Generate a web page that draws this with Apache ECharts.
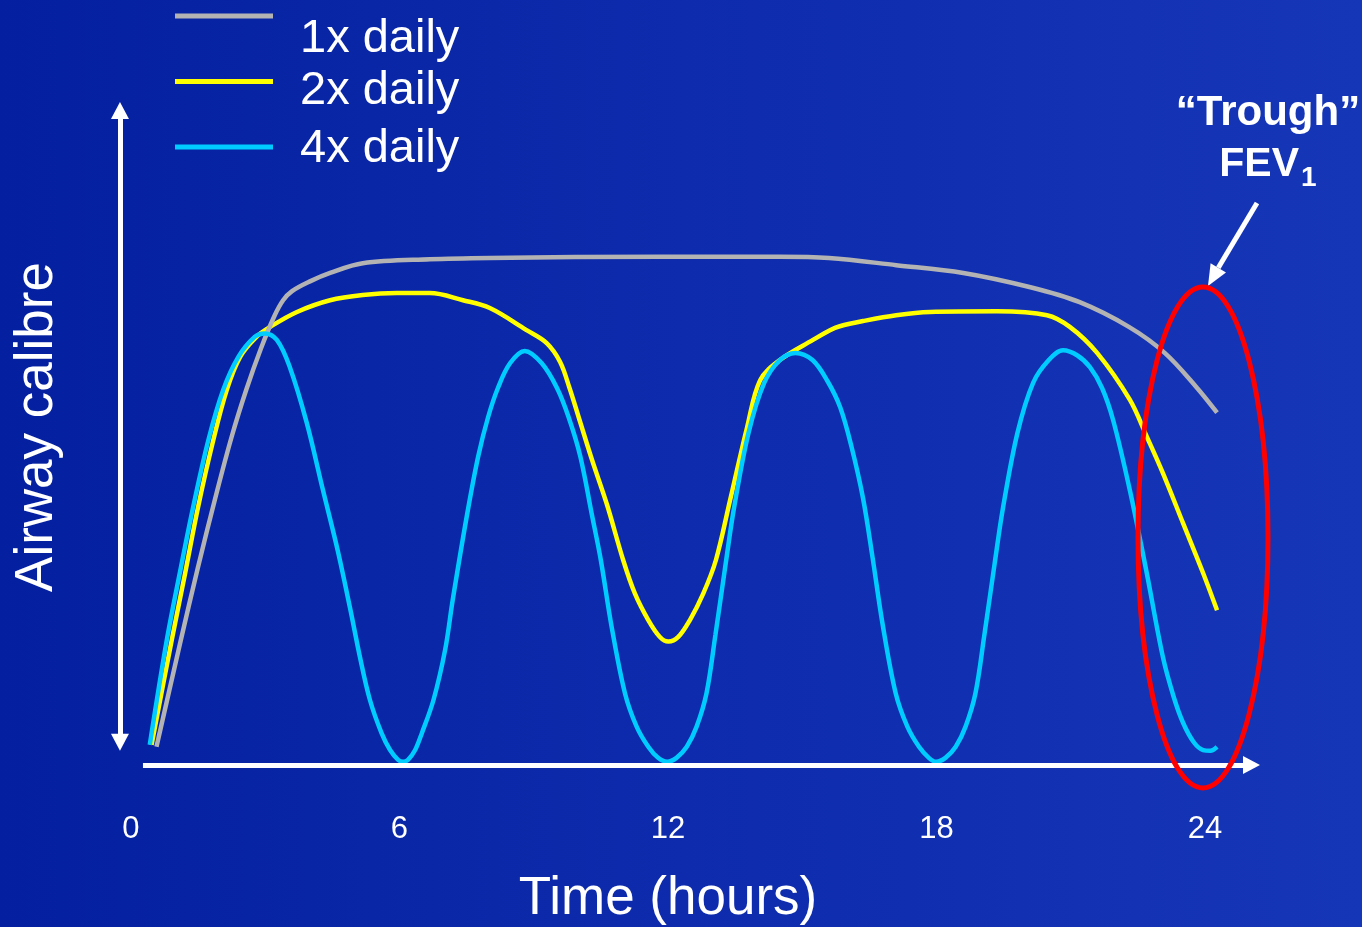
<!DOCTYPE html>
<html><head><meta charset="utf-8">
<script src="https://cdn.jsdelivr.net/npm/echarts@6/dist/echarts.min.js"></script>
<style>html,body{margin:0;padding:0;background:#0a28a8}#c{width:1362px;height:927px}</style>
</head><body><div id="c"></div><script>
// x: hours, y: airway calibre (arbitrary units, 0 = baseline)
const hourTicks = [0, 6, 12, 18, 24];
const seriesNames = ['1x daily', '2x daily', '4x daily'];

const once_h = [0.57, 1.09, 1.50, 1.90, 2.25, 2.58, 2.90, 3.20, 3.40, 3.60, 4.0, 4.45, 5.18, 6.68, 8.02, 11.82, 14.5, 15.6, 17.1, 18.6, 20.1, 21.2, 22.3, 23.1, 23.8, 24.27];
const once_v = [2.8, 18.5, 30.5, 41.5, 50.5, 57.8, 64, 69, 71.5, 72.9, 74.4, 75.7, 77.2, 77.8, 78, 78.2, 78.2, 78, 76.9, 75.7, 73.5, 71.2, 67.4, 63.4, 58.2, 54.2];

const twice_h = [0.46, 0.91, 1.21, 1.50, 1.84, 2.14, 2.44, 2.81, 3.11, 3.71, 4.45, 5.18, 5.94, 6.68, 7.42, 8.02, 8.84, 9.29, 9.59, 9.80, 10.05, 10.30, 10.64, 11.0, 11.26, 11.56, 11.82, 12.01, 12.23, 12.49, 12.79, 13.07, 13.39, 13.77, 14.06, 14.50, 15.24, 15.62, 15.84, 16.36, 17.1, 17.85, 19.35, 20.47, 20.98, 21.59, 22.32, 22.70, 23.06, 23.51, 23.96, 24.27];
const twice_v = [3.1, 19.2, 29.5, 39.7, 50, 57.7, 62.8, 65.9, 67.4, 69.7, 71.5, 72.3, 72.6, 72.6, 71.5, 70.3, 66.9, 64.9, 62, 58, 52.5, 47, 40, 31.5, 26.4, 22.3, 19.7, 19.0, 19.7, 22.3, 26.4, 31.5, 40.8, 52, 59.2, 62.3, 65.4, 66.9, 67.5, 68.3, 69.2, 69.7, 69.8, 69.2, 67.4, 63.4, 56.2, 50.5, 44.9, 37.2, 29.5, 23.8];

const four_h = [0.42, 0.80, 1.09, 1.39, 1.73, 2.06, 2.40, 2.77, 2.98, 3.26, 3.55, 3.93, 4.29, 4.62, 4.90, 5.12, 5.34, 5.60, 5.79, 5.97, 6.08, 6.19, 6.35, 6.50, 6.76, 7.02, 7.19, 7.51, 7.76, 7.98, 8.20, 8.47, 8.80, 9.18, 9.52, 9.78, 10.04, 10.30, 10.50, 10.74, 11.04, 11.30, 11.56, 11.78, 11.98, 12.19, 12.42, 12.64, 12.86, 13.06, 13.29, 13.48, 13.80, 14.15, 14.50, 14.85, 15.23, 15.57, 15.85, 16.10, 16.36, 16.57, 16.80, 17.09, 17.35, 17.61, 17.83, 17.99, 18.20, 18.43, 18.65, 18.87, 19.07, 19.30, 19.49, 19.81, 20.16, 20.51, 20.83, 21.15, 21.43, 21.70, 21.95, 22.32, 22.70, 23.06, 23.30, 23.51, 23.75, 23.96, 24.12, 24.27];
const four_v = [3.1, 19.2, 29.5, 39.7, 50, 57.7, 62.8, 65.9, 66.4, 65.4, 61.2, 52.6, 42.3, 33, 24, 16.5, 10, 4.9, 2.3, 0.8, 0.5, 0.8, 2.3, 4.9, 10, 17.7, 25.4, 38.5, 47.5, 53.5, 58, 61.8, 63.7, 61.8, 58, 53.5, 47.5, 38.5, 31.5, 21.3, 11.0, 5.9, 2.8, 1.1, 0.5, 1.1, 2.8, 5.9, 11.0, 20, 31, 39.7, 51.1, 58.8, 62.3, 63.4, 62.3, 59, 55, 49, 41, 32, 21.5, 11, 5.9, 2.8, 1.1, 0.5, 1.1, 2.8, 5.9, 11.0, 20, 31, 39.7, 51.1, 58.8, 62.3, 63.8, 63.0, 61.2, 58, 53, 42.3, 29.5, 16.6, 10.5, 6.5, 3.5, 2.3, 2.2, 2.8];

const colors = ['#b3b3b3', '#ffff00', '#00ccff'];
const pairs = (h, v) => h.map((x, i) => [x, v[i]]);

const chart = echarts.init(document.getElementById('c'));
const FONT = '"Liberation Sans", Arial, sans-serif';
const legendRich = {
  t0: {fontSize: 47, lineHeight: 50, color: '#ffffff', fontFamily: FONT, padding: [46, 0, 0, 22]},
  t1: {fontSize: 47, lineHeight: 50, color: '#ffffff', fontFamily: FONT, padding: [33, 0, 13, 22]},
  t2: {fontSize: 47, lineHeight: 50, color: '#ffffff', fontFamily: FONT, padding: [25.5, 0, 20.5, 22]}
};

const lineSeries = (i, h, v, z) => ({
  name: seriesNames[i], type: 'line', data: pairs(h, v), smooth: 0.35, showSymbol: false,
  lineStyle: {color: colors[i], width: 4.5}, itemStyle: {color: colors[i]}, z: z
});

const s0 = lineSeries(0, once_h, once_v, 3);
s0.markLine = {
  silent: true, animation: false, symbol: ['none', 'triangle'], symbolSize: [18, 17],
  label: {show: false}, lineStyle: {color: '#ffffff', width: 5, type: 'solid'},
  emphasis: {disabled: true},
  data: [
    [{coord: [0.268, 0], symbol: 'none'}, {coord: [25.04, 0], symbol: 'triangle'}],
    [{coord: [-0.246, 3.5], symbol: 'triangle'}, {coord: [-0.246, 100.7], symbol: 'triangle'}]
  ]
};

const option = {
  backgroundColor: {type: 'linear', x: 0, y: 0, x2: 1, y2: 0,
    colorStops: [{offset: 0, color: '#0420a0'}, {offset: 1, color: '#1636b8'}]},
  animation: false,
  grid: {left: 108.6, right: 89.9, top: 82.5, bottom: 129.5},
  xAxis: {
    type: 'value', min: -0.5, max: 25.5,
    axisLine: {show: false},
    axisTick: {show: false},
    splitLine: {show: false},
    axisLabel: {customValues: hourTicks, color: '#ffffff', fontSize: 31, fontFamily: FONT, margin: 16}
  },
  yAxis: {
    type: 'value', min: -5, max: 105,
    axisLine: {show: false}, axisTick: {show: false}, splitLine: {show: false}, axisLabel: {show: false}
  },
  legend: {
    orient: 'vertical', left: 175, top: -30.5, padding: 0,
    icon: 'rect', itemWidth: 98, itemHeight: 5, itemGap: -27.5,
    selectedMode: false,
    data: seriesNames,
    formatter: name => '{t' + seriesNames.indexOf(name) + '|' + name + '}',
    textStyle: {color: '#ffffff', fontSize: 47, fontFamily: FONT, rich: legendRich}
  },
  series: [s0, lineSeries(1, twice_h, twice_v, 2), lineSeries(2, four_h, four_v, 4)],
  graphic: [
    {type: 'text', x: 37, y: 427, rotation: Math.PI / 2,
      style: {text: 'Airway calibre', fill: '#ffffff', font: '53px ' + FONT, textAlign: 'center', textVerticalAlign: 'middle'}},
    {type: 'text', x: 668, y: 899,
      style: {text: 'Time (hours)', fill: '#ffffff', font: '53px ' + FONT, textAlign: 'center', textVerticalAlign: 'middle'}},
    {type: 'text', x: 1268, y: 113,
      style: {text: '\u201cTrough\u201d', fill: '#ffffff', font: 'bold 42px ' + FONT, textAlign: 'center', textVerticalAlign: 'middle'}},
    {type: 'text', x: 1299, y: 165,
      style: {text: 'FEV', fill: '#ffffff', font: 'bold 41px ' + FONT, textAlign: 'right', textVerticalAlign: 'middle'}},
    {type: 'text', x: 1301, y: 178,
      style: {text: '1', fill: '#ffffff', font: 'bold 28px ' + FONT, textAlign: 'left', textVerticalAlign: 'middle'}},
    {type: 'line', shape: {x1: 1257, y1: 203, x2: 1218.3, y2: 267.8},
      style: {stroke: '#ffffff', lineWidth: 5}, z: 100},
    {type: 'polygon', shape: {points: [[1208, 286], [1226, 272.4], [1210.6, 263.2]]},
      style: {fill: '#ffffff'}, z: 100},
    {type: 'ellipse', shape: {cx: 1203, cy: 537.5, rx: 65, ry: 250.5},
      style: {stroke: '#ff0000', fill: 'none', lineWidth: 5}, z: 100}
  ]
};
chart.setOption(option);
</script></body></html>
